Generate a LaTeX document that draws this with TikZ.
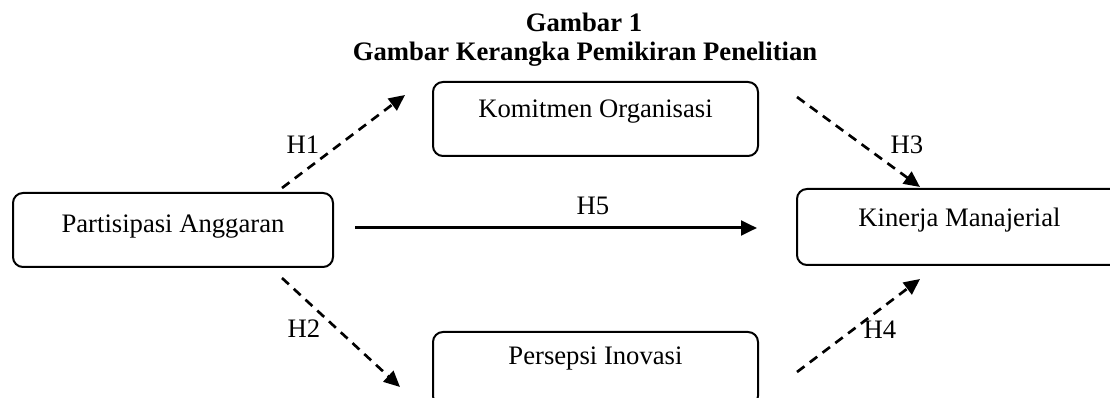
\documentclass[tikz,border=0pt]{standalone}
\usepackage{fontspec}
\setmainfont{Liberation Serif}
\usetikzlibrary{arrows.meta,positioning}

\tikzset{
	varbox/.style={draw, line width=1.5pt, rounded corners=7.5pt, inner sep=0pt, font=\fontsize{20}{24}\selectfont, text height=12pt, text depth=12pt},
	titletext/.style={inner sep=0pt, font=\fontsize{20}{24}\selectfont\bfseries},
	hyplabel/.style={inner sep=0pt, font=\fontsize{20}{24}\selectfont},
	dasharrow/.style={line width=2pt, dash pattern={on 7pt off 5pt}, -{Triangle[length=12pt,width=11pt]}},
	solidarrow/.style={line width=2.25pt, -{Triangle[length=12pt,width=11pt]}}
}

\begin{document}
\begin{tikzpicture}[x=0.75pt,y=0.75pt,yscale=-1,xscale=1]
	%set diagram to 1110 x 398
	\path[clip] (0,0) rectangle (1110,398);
	
	% Title
	\node (title) [titletext, anchor=base] at (584,32) {Gambar 1};
	\node (subtitle) [titletext, anchor=base] at (585,61) {Gambar Kerangka Pemikiran Penelitian};
	
	% Boxes
	\node (partisipasi) [varbox, minimum width=240pt, minimum height=55.5pt, text height=14.25pt, text depth=9.75pt] at (173,230) {Partisipasi Anggaran};
	\node (komitmen) [varbox, minimum width=243.75pt, minimum height=55.5pt, text height=11.25pt, text depth=12.75pt] at (595.5,119) {Komitmen Organisasi};
	\node (persepsi) [varbox, minimum width=243.75pt, minimum height=55.5pt, text height=9pt, text depth=15pt] at (595.5,369) {Persepsi Inovasi};
	\node (kinerja) [varbox, minimum width=243.75pt, minimum height=57pt] at (959.5,227) {Kinerja Manajerial};
	
	% Arrow ends
	\coordinate (h1s) at (282,188);
	\coordinate (h1e) at (405,95);
	\coordinate (h2s) at (282,278);
	\coordinate (h2e) at (400,387);
	\coordinate (h3s) at (797,97);
	\coordinate (h3e) at (920,187);
	\coordinate (h4s) at (797,372);
	\coordinate (h4e) at (920,279);
	\coordinate (h5s) at (355,228);
	\coordinate (h5e) at (757,228);
	
	% Arrows
	\draw [dasharrow] (h1s) -- (h1e);
	\draw [dasharrow] (h2s) -- (h2e);
	\draw [dasharrow] (h3s) -- (h3e);
	\draw [dasharrow] (h4s) -- (h4e);
	\draw [solidarrow] (h5s) -- (h5e);
	
	% Text Node
	\node (lblh1) [hyplabel] at (303,145) {H1};
	\node (lblh2) [hyplabel] at (304,329) {H2};
	\node (lblh3) [hyplabel] at (907,145) {H3};
	\node (lblh4) [hyplabel] at (880,330) {H4};
	\node (lblh5) [hyplabel] at (593,206) {H5};
	
\end{tikzpicture}
\end{document}
